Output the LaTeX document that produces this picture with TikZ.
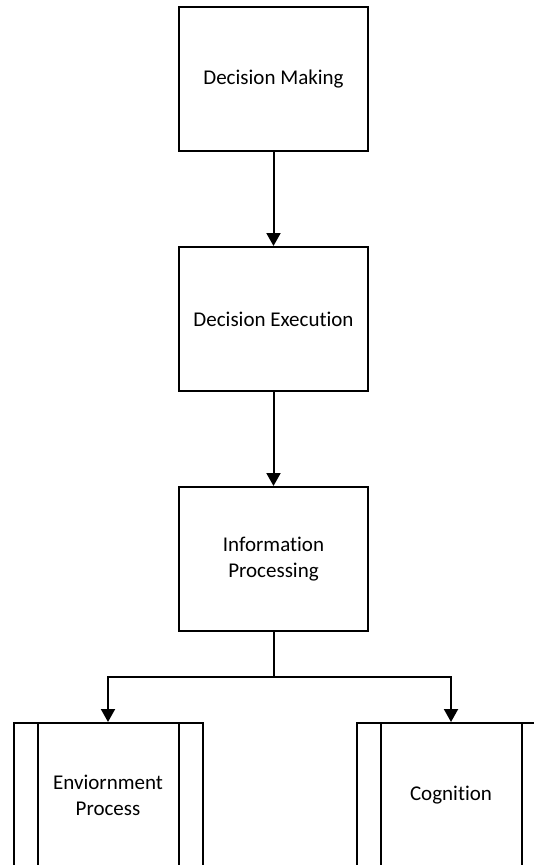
\documentclass[tikz,border=0pt]{standalone}
\usepackage{fontspec}
\setmainfont[RawFeature=-liga]{Carlito}
\usetikzlibrary{arrows.meta,calc}

\tikzset{
  stepbox/.style={draw=black, line width=2pt, fill=white,
    minimum width=189pt, minimum height=144pt, inner sep=0pt,
    align=center, font=\fontsize{21pt}{26pt}\selectfont},
  subbox/.style={stepbox,
    path picture={
      \draw[line width=2pt]
        ([xshift=24pt]path picture bounding box.north west) --
        ([xshift=24pt]path picture bounding box.south west)
        ([xshift=-24pt]path picture bounding box.north east) --
        ([xshift=-24pt]path picture bounding box.south east);
    }},
  flow/.style={draw=black, line width=2pt,
    -{Triangle[width=14pt,length=13pt]}},
  link/.style={draw=black, line width=2pt}
}

\begin{document}
\begin{tikzpicture}[x=1pt,y=-1pt]
  \useasboundingbox (0,0) rectangle (534,865);
  \clip (0,0) rectangle (534,865);

  % main chain
  \node[stepbox] (dm) at (273.5,79)  {Decision Making};
  \node[stepbox] (de) at (273.5,319) {Decision Execution};
  \node[stepbox] (ip) at (273.5,559) {Information\\Processing};

  % predefined processes
  \node[subbox] (env) at (108,795) {Enviornment\\Process};
  \node[subbox] (cog) at (451,795) {Cognition};

  % connectors
  \draw[flow] (dm.south) -- (de.north);
  \draw[flow] (de.south) -- (ip.north);
  \draw[link] (ip.south) -- ++(0,45) coordinate (split);
  \draw[flow] (split) -| (env.north);
  \draw[flow] (split) -| (cog.north);
\end{tikzpicture}
\end{document}
